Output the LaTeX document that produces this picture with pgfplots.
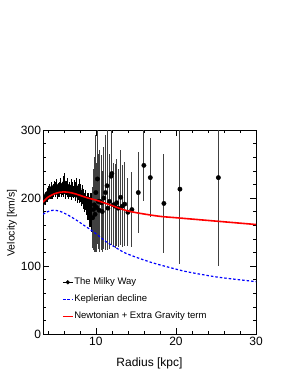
\documentclass[border=0pt]{standalone}
\usepackage{pgfplots}
\pgfplotsset{compat=1.18}
\usepackage{pgfplotstable}
\usepackage{fontspec}
\setmainfont{Liberation Sans}
\pgfplotstableread{
x y e
3.4 193 4
3.5 196 5
3.6 199 6
3.7 197 7
3.8 203 6
3.9 206 8
4.0 201 7
4.1 208 9
4.2 212 8
4.3 205 7
4.4 209 10
4.5 214 9
4.6 207 8
4.7 211 10
4.8 216 9
4.9 209 8
5.0 213 10
5.1 217 11
5.2 208 9
5.3 212 10
5.4 215 8
5.5 210 9
5.6 218 12
5.7 211 10
5.8 214 9
5.9 219 13
6.0 212 10
6.1 222 15
6.2 209 11
6.3 215 10
6.4 211 9
6.5 217 12
6.6 208 10
6.7 213 11
6.8 210 9
6.9 216 12
7.0 207 10
7.1 212 11
7.2 209 9
7.3 214 12
7.4 206 10
7.5 211 13
7.6 215 14
7.7 204 11
7.8 209 12
7.9 213 15
8.0 203 11
8.1 207 13
8.2 200 12
8.3 205 14
8.4 196 12
8.5 200 13
8.6 193 14
8.7 197 15
8.8 189 14
8.9 192 16
9.0 185 18
9.1 188 20
9.2 180 22
9.3 183 25
9.4 174 24
9.5 179 28
}\mwdense
\pgfplotstableread{
x y e
9.6 171 45
9.7 183 60
9.8 190 70
9.9 176 55
10.0 208 85
10.1 186 65
10.2 228 95
10.3 195 70
10.4 182 58
10.5 195 75
10.7 193 70
10.8 180 60
11.0 200 75
11.2 208 84
11.4 218 90
11.5 185 62
11.7 195 70
11.9 232 100
12.0 236 105
12.2 190 62
12.4 188 62
12.6 193 64
12.8 185 57
13.1 201 70
13.3 188 60
13.6 191 62
14.0 179 50
14.5 183 55
15.3 208 60
16.0 248 52
16.8 230 58
18.5 192 73
20.5 213 110
25.3 230 130
}\mwsparse
\pgfplotstableread{
x y
3.4 176
4.0 180
4.7 182
5.5 180.5
6.5 175
7.5 168
8.5 160
9.5 152
10.5 143
11.5 134
12.5 127
13.5 120
15 113
17 105
19 98.5
21 92.5
23 88
25 84
27 81
30 77
}\kepler
\pgfplotstableread{
x y
3.4 194
4 201
5 207
6 209
7 207.5
8 204
9 200
10 197
11 193
12 189
13 184.5
14 181
15 178.5
16 176.5
18 173
20 171
22 169
24 167
26 165
28 163
30 161
}\newton
\begin{document}
\begin{tikzpicture}
\path[use as bounding box] (0,0) rectangle (291bp,376bp);
\begin{axis}[
  at={(43bp,42bp)}, anchor=south west,
  width=213bp, height=204bp, scale only axis,
  clip marker paths=true,
  xmin=3.4, xmax=30, ymin=0, ymax=300,
  xtick={10,20,30}, ytick={0,100,200,300},
  minor xtick={4,6,8,12,14,16,18,22,24,26,28},
  minor ytick={20,40,60,80,120,140,160,180,220,240,260,280},
  tick align=inside, tick pos=both,
  major tick length=6bp, minor tick length=3bp,
  axis line style={line width=0.6bp},
  every tick/.style={line width=0.5bp, black},
  /pgf/number format/assume math mode=true,
  ticklabel style={font=\fontsize{12bp}{14bp}\selectfont},
  yticklabel style={xshift=1.5bp},
  xlabel={Radius [kpc]}, ylabel={Velocity [km/s]},
  xlabel style={font=\fontsize{12bp}{14bp}\selectfont, at={(axis description cs:0.5,-0.142)}, anchor=center},
  ylabel style={font=\fontsize{10.5bp}{12bp}\selectfont, at={(axis description cs:-0.1455,0.544)}, anchor=center},
  legend style={at={(axis description cs:0.09,0.28)}, anchor=north west, draw=none, fill=none,
    font=\fontsize{9.5bp}{11bp}\selectfont, row sep=6.5bp, inner sep=0pt, nodes={inner sep=1bp}},
  legend cell align=left,
  legend image code/.code={\draw[mark repeat=2,mark phase=2,#1,line width=0.9bp] plot coordinates {(0bp,0bp)(5bp,0bp)(10bp,0bp)};},
]
\addplot[only marks, mark=*, mark size=2.2bp, black,
  legend image code/.code={\draw[black, line width=0.9bp] (0bp,0bp) -- (10bp,0bp); \fill[black] (5bp,0bp) circle (1.9bp);},
  error bars/.cd, y dir=both, y explicit, error mark=none,
  error bar style={line width=1bp, black}]
  table[x=x, y=y, y error=e] {\mwdense};
\addlegendentry{The Milky Way}
\addplot[forget plot, only marks, mark=*, mark size=2.2bp, black,
  error bars/.cd, y dir=both, y explicit, error mark=none,
  error bar style={line width=0.9bp, black!75}]
  table[x=x, y=y, y error=e] {\mwsparse};
\addplot[blue, line width=1.2bp, dash pattern=on 2.5bp off 2bp, smooth] table[x=x,y=y] {\kepler};
\addlegendentry{Keplerian decline}
\addplot[red, line width=1.6bp, smooth] table[x=x,y=y] {\newton};
\addlegendentry{Newtonian + Extra Gravity term}
\end{axis}
\end{tikzpicture}
\end{document}
